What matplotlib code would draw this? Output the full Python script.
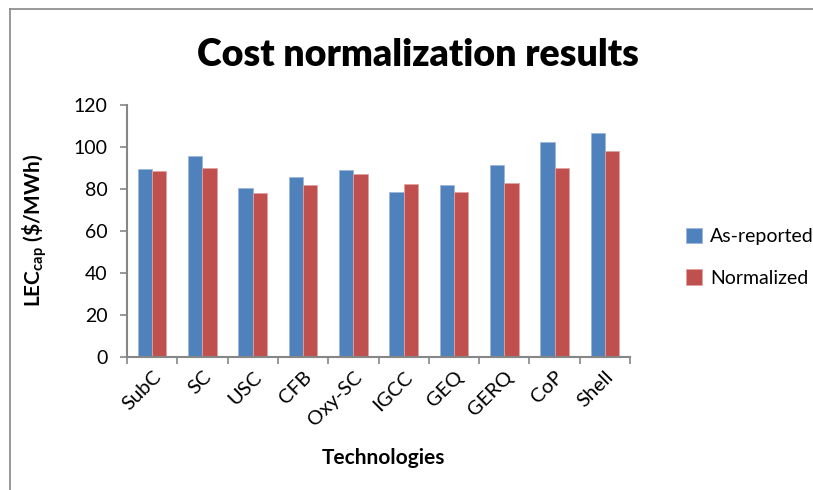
import matplotlib.pyplot as plt
from matplotlib.lines import Line2D
import numpy as np

plt.rcParams['font.family'] = ['Lato', 'DejaVu Sans']
plt.rcParams['mathtext.fontset'] = 'custom'
plt.rcParams['mathtext.rm'] = 'Lato'
plt.rcParams['mathtext.bf'] = 'Lato:bold'

technologies = ['SubC', 'SC', 'USC', 'CFB', 'Oxy-SC', 'IGCC', 'GEQ', 'GERQ', 'CoP', 'Shell']
as_reported = [89.5, 95.6, 80.5, 85.7, 89.0, 78.7, 81.7, 91.3, 102.2, 106.5]
normalized = [88.4, 90.0, 78.1, 82.1, 87.1, 82.5, 78.6, 82.7, 90.0, 98.1]
series_names = ['As-reported', 'Normalized']

blue = '#4F81BD'
red = '#C0504D'
grey = '#868686'

fig = plt.figure(figsize=(8.13, 4.90), dpi=100)
ax = fig.add_axes([127 / 813, 133 / 490, 503 / 813, 252 / 490])

x = np.arange(len(technologies))
w = 0.285
b1 = ax.bar(x - w / 2, as_reported, w, color=blue, edgecolor='#9DB7D9', linewidth=0.6, label=series_names[0])
b2 = ax.bar(x + w / 2, normalized, w, color=red, edgecolor='#E0A3A1', linewidth=0.6, label=series_names[1])

ax.set_xlim(-0.5, len(technologies) - 0.5)
ax.set_ylim(0, 120)
ax.set_yticks(range(0, 121, 20))
ax.tick_params(axis='y', direction='out', length=5, width=1.2, color=grey, labelsize=14, pad=9)

# x ticks sit between categories, labels at the centres
ax.set_xticks(np.arange(-0.5, len(technologies), 1.0))
ax.set_xticklabels([])
ax.tick_params(axis='x', direction='out', length=5, width=1.2, color=grey)
ax.set_xticks(x, minor=True)
ax.set_xticklabels(technologies, minor=True, rotation=45, ha='right', rotation_mode='anchor', fontsize=14.5)
ax.tick_params(axis='x', which='minor', length=0, pad=8)

for s in ['top', 'right']:
    ax.spines[s].set_visible(False)
for s in ['left', 'bottom']:
    ax.spines[s].set_color(grey)
    ax.spines[s].set_linewidth(1.5)

fig.text(418 / 813, 1 - 55 / 490, 'Cost normalization results', ha='center', va='center',
         fontsize=27, fontweight='heavy')
fig.text(383 / 813, 1 - 458 / 490, 'Technologies', ha='center', va='center',
         fontsize=15, fontweight='bold')
fig.text(35 / 813, 1 - 230 / 490, r'$\mathbf{LEC}_{\mathbf{cap}}$ (\$/MWh)', ha='center', va='center',
         rotation=90, fontsize=15, fontweight='bold')

fig.legend(handles=[b1, b2], loc='upper left', bbox_to_anchor=(668 / 813, 1 - 210 / 490),
           frameon=False, fontsize=14, handlelength=0.85, handleheight=0.85,
           handletextpad=0.4, labelspacing=1.25)

# chart area border (continues past the right and bottom edges)
fig.add_artist(Line2D([10 / 813, 1.0], [1 - 9 / 490, 1 - 9 / 490], color=grey, linewidth=1.2))
fig.add_artist(Line2D([10 / 813, 10 / 813], [0.0, 1 - 9 / 490], color=grey, linewidth=1.2))

fig.savefig('out.png', dpi=100)
